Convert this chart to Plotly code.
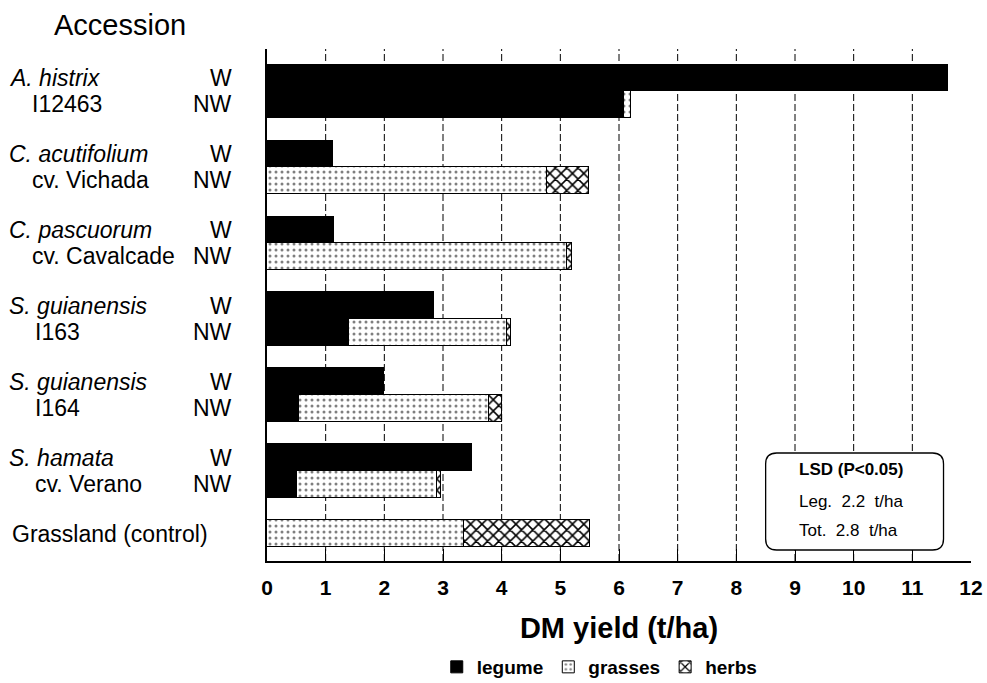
import plotly.graph_objects as go

# ---------------- data ----------------
species = ["A. histrix", "C. acutifolium", "C. pascuorum",
           "S. guianensis", "S. guianensis", "S. hamata"]
line2 = ["I12463", "cv. Vichada", "cv. Cavalcade", "I163", "I164", "cv. Verano"]
legume_W = [11.6, 1.12, 1.14, 2.85, 1.99, 3.49]
legume_NW = [6.08, 0.0, 0.0, 1.40, 0.55, 0.51]
grasses_NW = [0.13, 4.77, 5.11, 2.69, 3.23, 2.39]
herbs_NW = [0.0, 0.72, 0.09, 0.07, 0.22, 0.06]
control_label = "Grassland (control)"
control_grasses = 3.36
control_herbs = 2.14
x_ticks = list(range(0, 13))
lsd_lines = ["<b>LSD (P<0.05)</b>", "Leg.\u00a0 2.2\u00a0 t/ha", "Tot.\u00a0 2.8\u00a0 t/ha"]

# ---------------- layout geometry ----------------
W, H = 987, 683
REF_L, REF_T, REF_B, REF_R = 267, 49, 561, 971.5   # plot area in screen pixels
L, T = REF_L, REF_T
B = H - REF_B
R = W - REF_R
PW, PH = REF_R - REF_L, REF_B - REF_T
BW = 0.35  # bar thickness in group units
n = len(species)
yW = [i for i in range(n)]
yNW = [i + BW for i in range(n)]
yC = n

FONT = "Liberation Sans, Arial, Helvetica, sans-serif"


def px2paper_x(px):
    return (px - REF_L) / PW


def py2paper_y(py):
    return (REF_B - py) / PH


fig = go.Figure()

line_style = dict(color="black", width=1)
leg_y = yW + yNW
leg_x = legume_W + [v if v > 0 else None for v in legume_NW]
fig.add_trace(go.Bar(
    name="legume", orientation="h", y=leg_y, x=leg_x, width=BW,
    marker=dict(color="black", line=line_style),
))
fig.add_trace(go.Bar(
    name="grasses", orientation="h", y=yNW + [yC], x=grasses_NW + [control_grasses], width=BW,
    marker=dict(color="white", line=line_style,
                pattern=dict(shape=".", fgcolor="black", bgcolor="white",
                             size=6, solidity=0.2, fillmode="overlay")),
))
fig.add_trace(go.Bar(
    name="herbs", orientation="h", y=yNW + [yC], x=[v if v > 0 else None for v in herbs_NW] + [control_herbs], width=BW,
    marker=dict(color="white", line=line_style,
                pattern=dict(shape="x", fgcolor="black", bgcolor="white", fgopacity=1,
                             size=8, solidity=0.35, fillmode="overlay")),
))

shapes = []
# dashed vertical gridlines
for v in x_ticks[1:-1]:
    shapes.append(dict(type="line", xref="x", yref="paper", x0=v, x1=v, y0=0, y1=1,
                       line=dict(color="black", width=1, dash="7px,3px"), layer="below"))

# LSD rounded box
bx0, bx1 = px2paper_x(766), px2paper_x(944)
by0, by1 = py2paper_y(550), py2paper_y(453)
rx, ry = 11 / PW, 11 / PH
path = (f"M {bx0+rx},{by0} L {bx1-rx},{by0} Q {bx1},{by0} {bx1},{by0+ry} "
        f"L {bx1},{by1-ry} Q {bx1},{by1} {bx1-rx},{by1} "
        f"L {bx0+rx},{by1} Q {bx0},{by1} {bx0},{by1-ry} "
        f"L {bx0},{by0+ry} Q {bx0},{by0} {bx0+rx},{by0} Z")
shapes.append(dict(type="path", xref="paper", yref="paper", path=path,
                   fillcolor="white", line=dict(color="black", width=1.3), layer="above"))

annotations = []
PADL = 3  # annotation left padding compensation
# LSD text
for k, (txt, py) in enumerate(zip(lsd_lines, [469, 501, 530])):
    annotations.append(dict(xref="paper", yref="paper", x=px2paper_x(800 - PADL), y=py2paper_y(py),
                            text=txt, showarrow=False, xanchor="left", yanchor="middle",
                            font=dict(family=FONT, size=17, color="black")))

# Accession title
annotations.append(dict(xref="paper", yref="paper", x=px2paper_x(55 - PADL), y=py2paper_y(25),
                        text="Accession", showarrow=False, xanchor="left", yanchor="middle",
                        font=dict(family=FONT, size=29, color="black")))

label_font = dict(family=FONT, size=23, color="black")
for i in range(n):
    annotations.append(dict(xref="paper", yref="y", x=px2paper_x(10 - PADL), y=yW[i],
                            text=f"<i>{species[i]}</i>", showarrow=False,
                            xanchor="left", yanchor="middle", font=label_font))
    annotations.append(dict(xref="paper", yref="y", x=px2paper_x((33 if i < 3 else 36) - PADL), y=yNW[i],
                            text=line2[i], showarrow=False,
                            xanchor="left", yanchor="middle", font=label_font))
    annotations.append(dict(xref="paper", yref="y", x=px2paper_x(234), y=yW[i],
                            text="W", showarrow=False,
                            xanchor="right", yanchor="middle", font=label_font))
    annotations.append(dict(xref="paper", yref="y", x=px2paper_x(234), y=yNW[i],
                            text="NW", showarrow=False,
                            xanchor="right", yanchor="middle", font=label_font))
annotations.append(dict(xref="paper", yref="y", x=px2paper_x(13 - PADL), y=yC,
                        text=control_label, showarrow=False,
                        xanchor="left", yanchor="middle", font=label_font))

fig.update_layout(
    width=W, height=H,
    margin=dict(l=L, r=R, t=T, b=B, autoexpand=False),
    paper_bgcolor="white", plot_bgcolor="white",
    barmode="stack", bargap=0,
    font=dict(family=FONT, color="black"),
    shapes=shapes, annotations=annotations,
    showlegend=True,
    legend=dict(orientation="h", x=px2paper_x(600), xanchor="center", y=py2paper_y(667), yanchor="middle",
                font=dict(family=FONT, size=19, color="black", weight="bold"),
                itemwidth=30, traceorder="normal", bgcolor="rgba(0,0,0,0)"),
    xaxis=dict(range=[0, 12], tickvals=x_ticks, ticktext=[str(v) for v in x_ticks],
               showgrid=False, zeroline=False, showline=True, linecolor="black", linewidth=2,
               ticks="inside", ticklen=12, tickwidth=1.3, tickcolor="black",
               ticklabelstandoff=7,
               tickfont=dict(family=FONT, size=21, color="black", weight="bold"),
               title=dict(text="DM yield (t/ha)", standoff=19,
                          font=dict(family=FONT, size=29, color="black", weight="bold")),
               fixedrange=True),
    yaxis=dict(range=[n + 0.36, -0.38], showgrid=False, zeroline=False, showticklabels=False,
               showline=True, linecolor="black", linewidth=2, ticks="", fixedrange=True),
)

fig.write_html("out.html", config={"displayModeBar": False},
               post_script="document.body.style.margin='0';document.body.style.overflow='hidden';")
